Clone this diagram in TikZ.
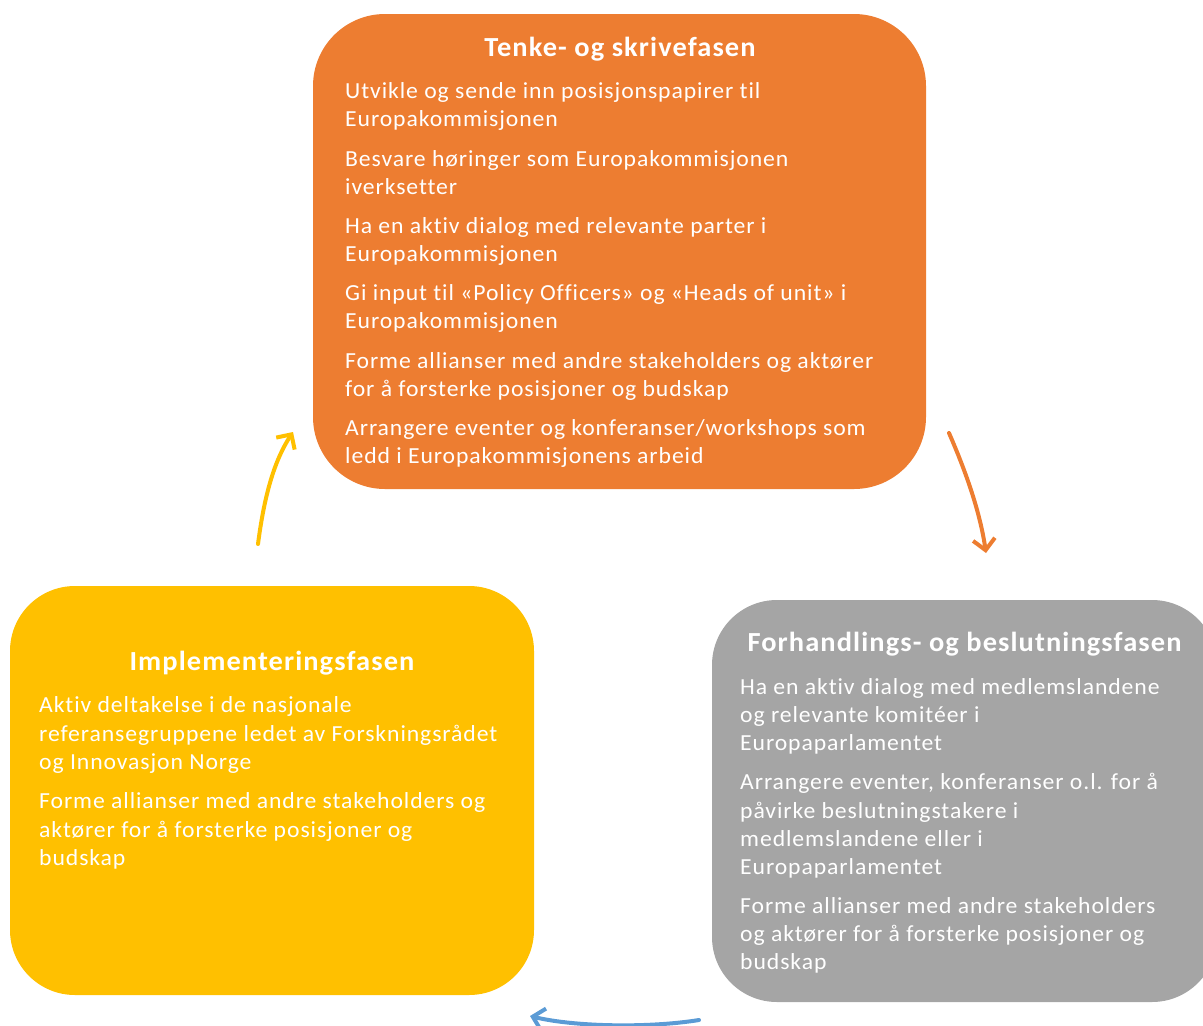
\documentclass[tikz,border=0pt]{standalone}
\usepackage{fontspec}
\setmainfont{Carlito}[Ligatures=NoCommon, FakeStretch=1.03, LetterSpace=4]
\usetikzlibrary{arrows.meta}
\definecolor{cOrange}{HTML}{ED7D31}
\definecolor{cYellow}{HTML}{FFC000}
\definecolor{cGray}{HTML}{A5A5A5}
\definecolor{cBlue}{HTML}{5B9BD5}
\tikzset{
  phase/.style={draw=none, rounded corners=#1},
  ttl/.style={text=white, font=\fontsize{27.6}{30}\selectfont\bfseries, anchor=base, inner sep=0},
  ln/.style={text=white, font=\fontsize{23}{28}\selectfont, anchor=base west, inner sep=0},
  cyc/.style={line width=4pt, line cap=round, -{Straight Barb[length=11pt,width=22pt,line width=4pt]}}
}
\begin{document}
\begin{tikzpicture}[x=1pt,y=-1pt]
\useasboundingbox (0,0) rectangle (1203,1026);
% boxes
\fill[cOrange, phase=72] (313,14) rectangle (926,489);
\node[inner sep=0, minimum width=613pt, minimum height=475pt] (orangebox) at (619.5,251.5) {};
\fill[cYellow, phase=65] (10,586) rectangle (534,995);
\node[inner sep=0, minimum width=524pt, minimum height=409pt] (yellowbox) at (272,790.5) {};
\fill[cGray, phase=65] (712,600) rectangle (1217,1002);
\node[inner sep=0, minimum width=505pt, minimum height=402pt] (graybox) at (964.5,801) {};
% orange text
\node[ttl] (ot) at (620,56) {Tenke- og skrivefasen};
\node[ln] (o1) at (345,98) {Utvikle og sende inn posisjonspapirer til};
\node[ln] (o2) at (345,126) {Europakommisjonen};
\node[ln] (o3) at (345,166) {Besvare  høringer som Europakommisjonen};
\node[ln] (o4) at (345,194) {iverksetter};
\node[ln] (o5) at (345,233) {Ha en aktiv dialog med relevante parter i};
\node[ln] (o6) at (345,261) {Europakommisjonen};
\node[ln] (o7) at (345,300) {Gi input til «Policy Officers» og «Heads of unit» i};
\node[ln] (o8) at (345,328) {Europakommisjonen};
\node[ln] (o9) at (345,368) {Forme allianser med andre stakeholders og aktører};
\node[ln] (o10) at (345,396) {for å forsterke posisjoner og budskap};
\node[ln] (o11) at (345,435) {Arrangere eventer og konferanser/workshops som};
\node[ln] (o12) at (345,463) {ledd i Europakommisjonens arbeid};
% yellow text
\node[ttl] (yt) at (272,670) {Implementeringsfasen};
\node[ln] (y1) at (39,712) {Aktiv deltakelse i de nasjonale};
\node[ln] (y2) at (39,741) {referansegruppene ledet av Forskningsrådet};
\node[ln] (y3) at (39,769) {og Innovasjon Norge};
\node[ln] (y4) at (39,808) {Forme allianser med andre stakeholders og};
\node[ln] (y5) at (39,837) {aktører for å forsterke posisjoner og};
\node[ln] (y6) at (39,865) {budskap};
% gray text
\node[ttl] (gt) at (964.5,651) {Forhandlings- og beslutningsfasen};
\node[ln] (g1) at (740,694) {Ha en aktiv dialog med medlemslandene};
\node[ln] (g2) at (740,722) {og relevante  komitéer i};
\node[ln] (g3) at (740,750) {Europaparlamentet};
\node[ln] (g4) at (740,789) {Arrangere eventer,  konferanser o.l. for å};
\node[ln] (g5) at (740,818) {påvirke beslutningstakere i};
\node[ln] (g6) at (740,846) {medlemslandene eller i};
\node[ln] (g7) at (740,874) {Europaparlamentet};
\node[ln] (g8) at (740,913) {Forme allianser med andre stakeholders};
\node[ln] (g9) at (740,941) {og aktører for å forsterke posisjoner og};
\node[ln] (g10) at (740,969) {budskap};
% cycle arrows
\coordinate (ya) at (258,544);
\coordinate (yb) at (293,432);
\coordinate (oa) at (949,433);
\coordinate (ob) at (986,553);
\coordinate (ba) at (699,1020);
\coordinate (bb) at (530,1016);
\draw[cyc, draw=cYellow] (ya) .. controls (265,490) and (276,458) .. (yb);
\draw[cyc, draw=cOrange] (oa) .. controls (966,472) and (980,512) .. (ob);
\draw[cyc, draw=cBlue] (ba) .. controls (650,1028) and (575,1027) .. (bb);
\end{tikzpicture}
\end{document}
